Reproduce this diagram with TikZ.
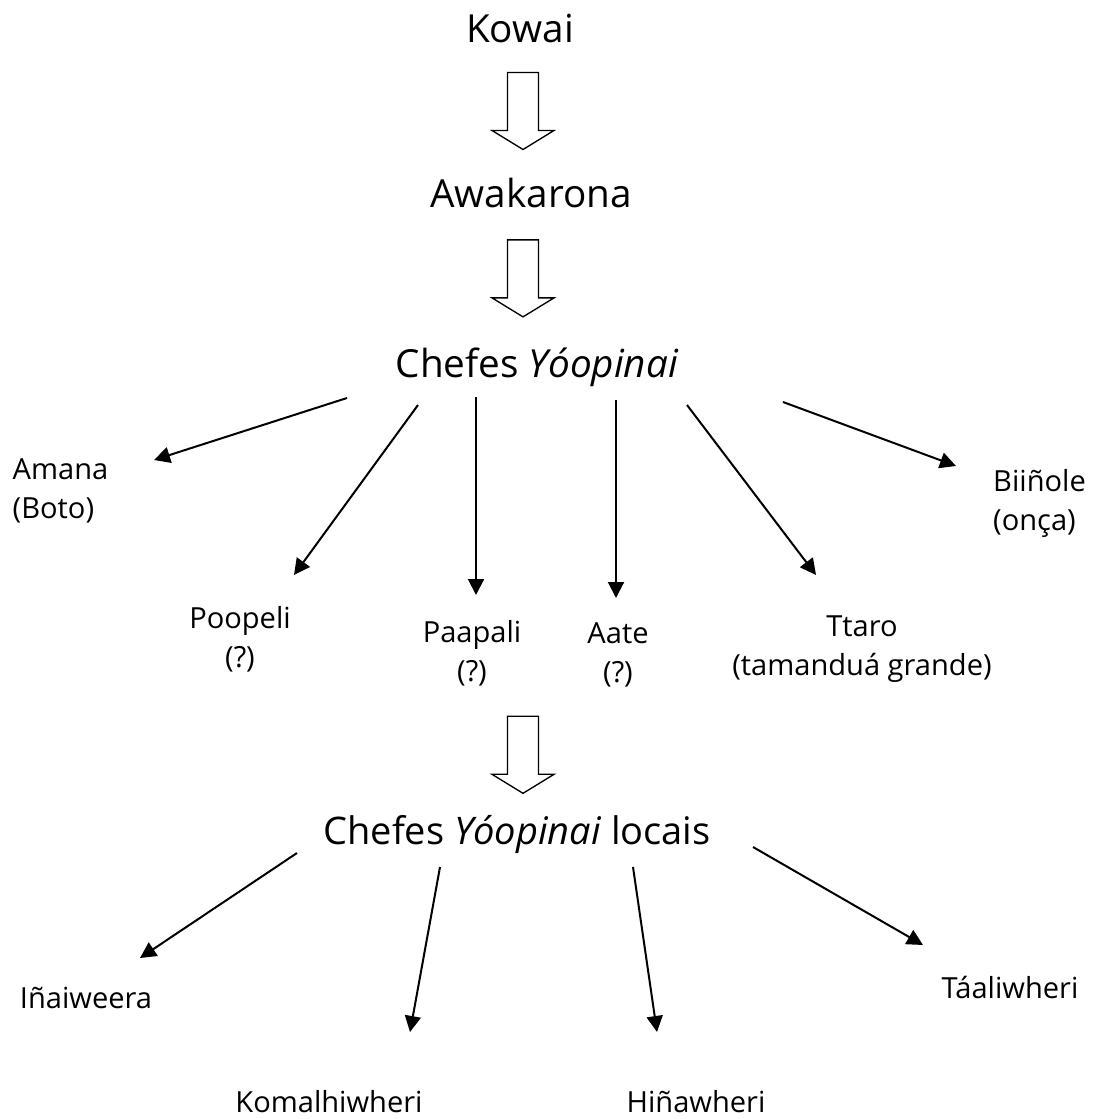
\documentclass[tikz,border=0pt]{standalone}
\usepackage{fontspec}
\setmainfont{Open Sans}
\usetikzlibrary{arrows.meta,calc}
\tikzset{
	arr/.style={-{Triangle[length=12pt,width=12pt]},line width=1.5pt},
	hollow/.style={draw,line width=1pt,fill=white,line join=miter}
	}
% block arrow half way between two anchors, on the common axis
\newcommand{\fatarrow}[2]{%
	\path ($(#1)!.5!(#2)$) coordinate (fatmid);
	\draw[hollow] (fatmid -| axis) +(-15.5,-38.5) -- +(15.5,-38.5) -- +(15.5,19.5) -- +(31,19.5)
		-- +(0,38.5) -- +(-31,19.5) -- +(-15.5,19.5) -- cycle;}

\begin{document}
\begin{tikzpicture}[x=0.75pt,y=-0.75pt]
		\path[use as bounding box] (0,0) rectangle (1101,1119);
		\tikzstyle{every node}=[inner sep=0pt]
		\tikzstyle{bigtext}=[font=\fontsize{29}{35}\selectfont,anchor=base]
		\tikzstyle{midtext}=[font=\fontsize{28.5}{34}\selectfont,anchor=base]
		\tikzstyle{leaftext}=[font=\fontsize{21.8}{29.3}\selectfont]
		\coordinate (axis) at (523,0);

		%% Origin
		\draw (520,43) node [bigtext] (kowai) {Kowai};
		\draw (531,208) node [bigtext] (awak) {Awakarona};
		\draw (537,378) node [bigtext] (chefes) {Chefes \textit{Yóopinai}};
		\fatarrow{kowai.south}{awak.north}
		\fatarrow{awak.south}{chefes.north}

		%% Clan chiefs
		\draw (60.5,490.5) node [leaftext,align=left] (amana) {Amana\\(Boto)};
		\draw (240,639) node [leaftext,align=center] (poopeli) {Poopeli\\(?)};
		\draw (472,653.5) node [leaftext,align=center] (paapali) {Paapali\\(?)};
		\draw (618,654.5) node [leaftext,align=center] (aate) {Aate\\(?)};
		\draw (862,649.5) node [leaftext,align=center] (ttaro) {Ttaro\\(tamanduá grande)};
		\draw (1039.5,503) node [leaftext,align=left] (biinole) {Biiñole\\(onça)};
		\draw[arr] ([shift={(-190,20)}]chefes.base) -- ([shift={(93.5,-30.5)}]amana.center);
		\draw[arr] ([shift={(-119,27)}]chefes.base) -- ([shift={(54,-64)}]poopeli.center);
		\draw[arr] ([shift={(-61,19)}]chefes.base) -- ([shift={(4,-58.5)}]paapali.center);
		\draw[arr] ([shift={(79,22)}]chefes.base) -- ([shift={(-2,-56.5)}]aate.center);
		\draw[arr] ([shift={(150,27)}]chefes.base) -- ([shift={(-46,-74.5)}]ttaro.center);
		\draw[arr] ([shift={(246,24)}]chefes.base) -- ([shift={(-83.5,-37)}]biinole.center);

		%% Local chiefs
		\coordinate (rank) at (529,695);
		\draw (517,844) node [midtext] (locais) {Chefes \textit{Yóopinai} locais};
		\fatarrow{rank}{locais.north}
		\draw (86,1008) node [leaftext,anchor=base] (inaiweera) {Iñaiweera};
		\draw (329,1112) node [leaftext,anchor=base] (komal) {Komalhiwheri};
		\draw (696,1112) node [leaftext,anchor=base] (hinaw) {Hiñawheri};
		\draw (1010,998) node [leaftext,anchor=base] (taali) {Táaliwheri};
		\draw[arr] ([shift={(-220,9)}]locais.base) -- ([shift={(54,-50)}]inaiweera.base);
		\draw[arr] ([shift={(-77,23)}]locais.base) -- ([shift={(81,-80)}]komal.base);
		\draw[arr] ([shift={(116,23)}]locais.base) -- ([shift={(-39,-80)}]hinaw.base);
		\draw[arr] ([shift={(236,3)}]locais.base) -- ([shift={(-87,-53)}]taali.base);

	\end{tikzpicture}
\end{document}
